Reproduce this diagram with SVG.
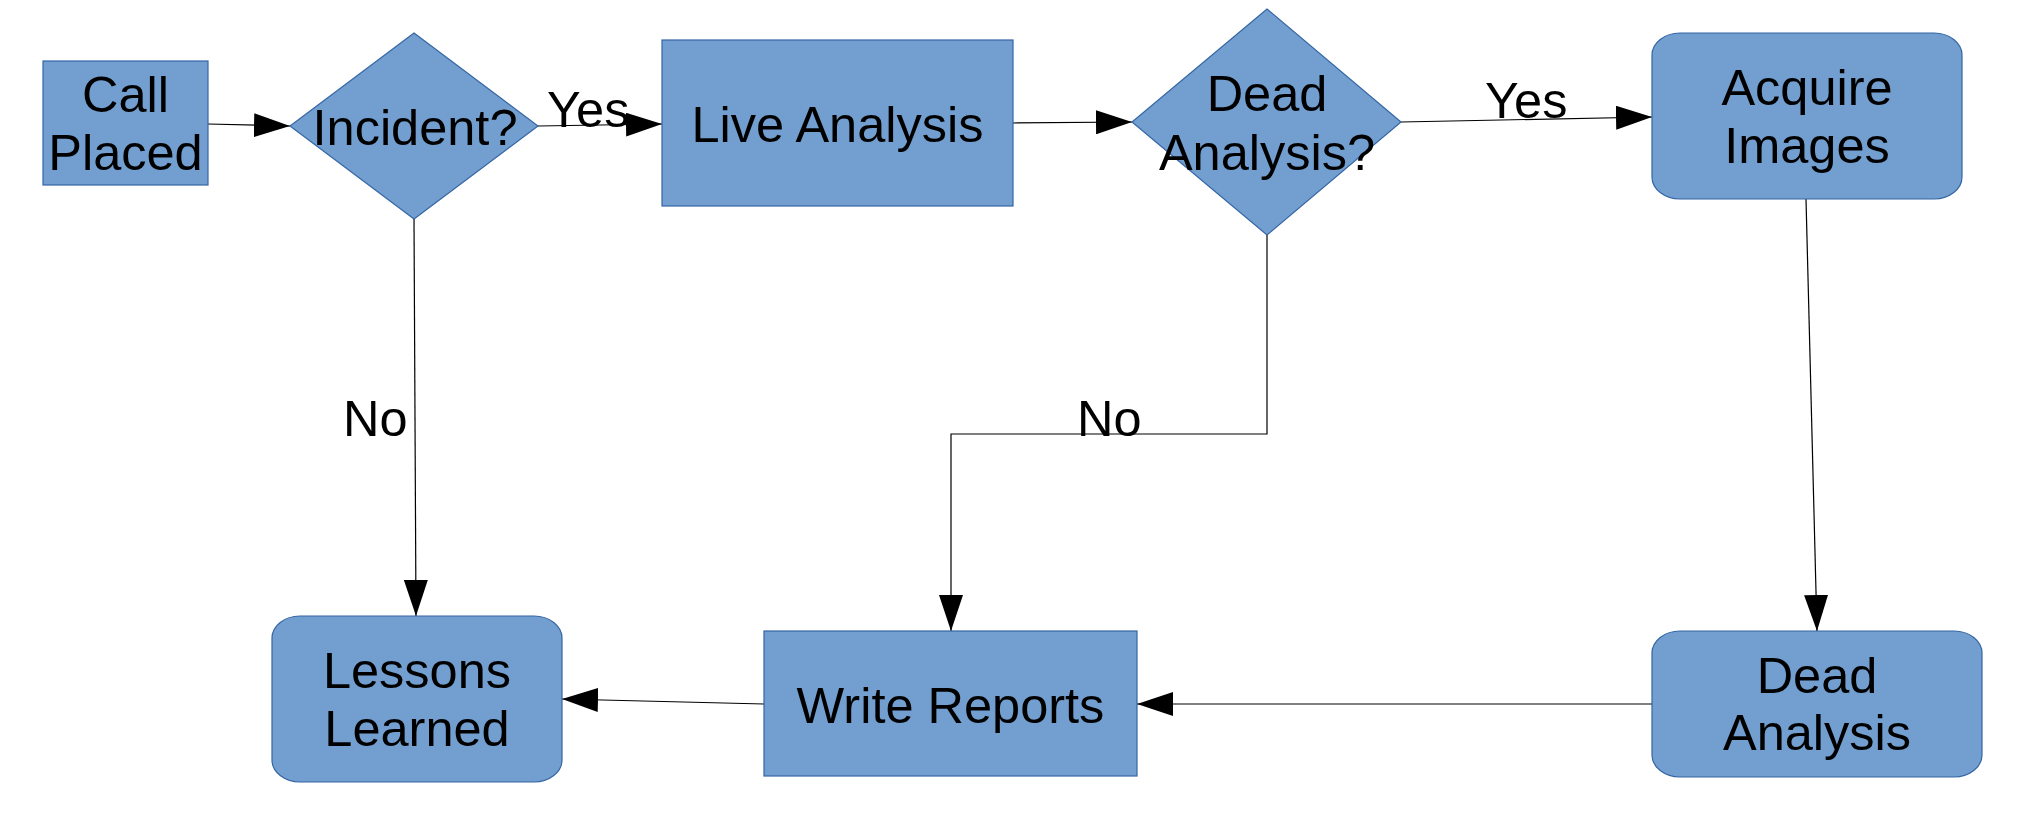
<svg xmlns="http://www.w3.org/2000/svg" width="2038" height="824" viewBox="0 0 2038 824">
<style>
.n{fill:#729fcf;stroke:#3465a4;stroke-width:1.2}
.t{font-family:"Liberation Sans",Arial,sans-serif;font-size:50.5px;fill:#000;text-anchor:middle}
.l{font-family:"Liberation Sans",Arial,sans-serif;font-size:50.5px;fill:#000}
.c{fill:none;stroke:#000;stroke-width:1.2}
</style>
<defs>
<marker id="ah" markerUnits="userSpaceOnUse" markerWidth="36" markerHeight="24" refX="36" refY="12" orient="auto" viewBox="0 0 36 24">
<path d="M0,0 L36,12 L0,24 Z" fill="#000"/>
</marker>
</defs>
<rect width="2038" height="824" fill="#fff"/>
<g id="connectors">
<path class="c" d="M208,124 L290,126" marker-end="url(#ah)"/>
<path class="c" d="M538,126 L662,124" marker-end="url(#ah)"/>
<path class="c" d="M1013,123 L1132,122" marker-end="url(#ah)"/>
<path class="c" d="M1401,122 L1652,117" marker-end="url(#ah)"/>
<path class="c" d="M414,219 L416,616" marker-end="url(#ah)"/>
<path class="c" d="M1267,235 L1267,434 L951,434 L951,631" marker-end="url(#ah)"/>
<path class="c" d="M1806,199 L1817,631" marker-end="url(#ah)"/>
<path class="c" d="M1652,704 L1137,704" marker-end="url(#ah)"/>
<path class="c" d="M764,704 L562,699" marker-end="url(#ah)"/>
<text class="l" x="547" y="127">Yes</text>
<text class="l" x="1485" y="118">Yes</text>
<text class="l" x="343" y="436">No</text>
<text class="l" x="1077" y="436">No</text>
</g>
<g id="call-placed">
<rect class="n" x="43" y="61" width="165" height="124"/>
<text class="t" x="125.5" y="112">Call</text>
<text class="t" x="125.5" y="170">Placed</text>
</g>
<g id="incident">
<polygon class="n" points="414,33 538,126 414,219 290,126"/>
<text class="t" x="415" y="145">Incident?</text>
</g>
<g id="live-analysis">
<rect class="n" x="662" y="40" width="351" height="166"/>
<text class="t" x="837.5" y="142">Live Analysis</text>
</g>
<g id="dead-analysis-q">
<polygon class="n" points="1267,9 1401,122 1267,235 1132,122"/>
<text class="t" x="1267" y="111">Dead</text>
<text class="t" x="1267" y="170">Analysis?</text>
</g>
<g id="acquire-images">
<rect class="n" x="1652" y="33" width="310" height="166" rx="28" ry="22"/>
<text class="t" x="1807" y="105">Acquire</text>
<text class="t" x="1807" y="163">Images</text>
</g>
<g id="dead-analysis">
<rect class="n" x="1652" y="631" width="330" height="146" rx="28" ry="22"/>
<text class="t" x="1817" y="693">Dead</text>
<text class="t" x="1817" y="750">Analysis</text>
</g>
<g id="write-reports">
<rect class="n" x="764" y="631" width="373" height="145"/>
<text class="t" x="950.5" y="723">Write Reports</text>
</g>
<g id="lessons-learned">
<rect class="n" x="272" y="616" width="290" height="166" rx="28" ry="22"/>
<text class="t" x="417" y="688">Lessons</text>
<text class="t" x="417" y="746">Learned</text>
</g>
</svg>
